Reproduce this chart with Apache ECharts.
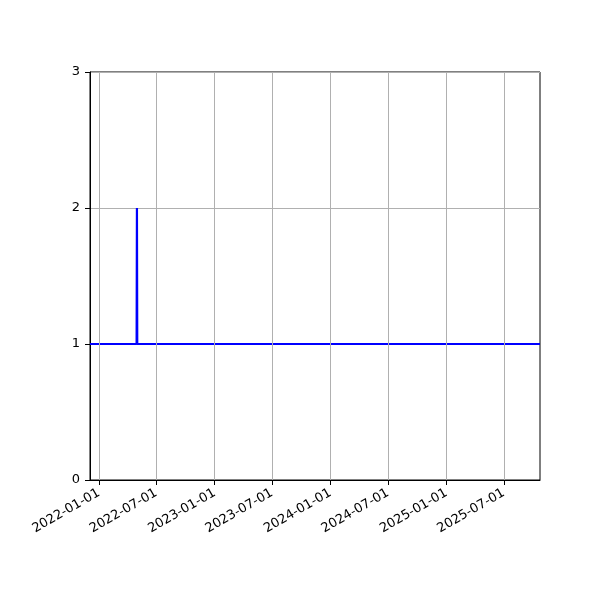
<!DOCTYPE html>
<html lang="en">
<head>
    <meta charset="UTF-8">
    <title>step spike</title>
    <style>
        html, body { margin: 0; padding: 0; background: #fff; }
        #chart { width: 600px; height: 600px; }
    </style>
</head>
<body>
<div id="chart"></div>
<script src="https://cdn.jsdelivr.net/npm/echarts@6/dist/echarts.min.js"></script>
<script>
    // data
    var dates = ['2021-12-04', '2022-04-30', '2022-05-01', '2022-05-02', '2025-10-23'];
    var values = [1, 1, 2, 1, 1];
    var xTicks = ['2022-01-01', '2022-07-01', '2023-01-01', '2023-07-01',
                  '2024-01-01', '2024-07-01', '2025-01-01', '2025-07-01'];
    var yTicks = [0, 1, 2, 3];

    function ts(s) {
        var p = s.split('-');
        return Date.UTC(+p[0], +p[1] - 1, +p[2]);
    }
    function pad(n) { return n < 10 ? '0' + n : '' + n; }
    function fmt(v) {
        var d = new Date(v);
        return d.getUTCFullYear() + '-' + pad(d.getUTCMonth() + 1) + '-' + pad(d.getUTCDate());
    }

    var points = dates.map(function (d, i) { return [ts(d), values[i]]; });
    var tickTimes = xTicks.map(ts);
    var font = 'DejaVu Sans';

    var chart = echarts.init(document.getElementById('chart'));
    chart.setOption({
        animation: false,
        backgroundColor: '#fff',
        grid: {
            left: 90, right: 60, top: 72, bottom: 120,
            show: true, borderColor: '#000', borderWidth: 1, backgroundColor: 'transparent'
        },
        xAxis: {
            type: 'value',
            min: ts(dates[0]),
            max: ts(dates[dates.length - 1]),
            axisLine: { show: true, lineStyle: { color: '#000', width: 1 } },
            axisTick: { show: true, length: 5, lineStyle: { color: '#000' }, customValues: tickTimes },
            splitLine: { show: false },
            axisLabel: {
                customValues: tickTimes,
                rotate: 30,
                margin: 12,
                color: '#000',
                fontFamily: font,
                fontSize: 13,
                formatter: fmt
            }
        },
        yAxis: {
            type: 'value',
            min: yTicks[0],
            max: yTicks[yTicks.length - 1],
            interval: 1,
            axisLine: { show: true, lineStyle: { color: '#000', width: 1 } },
            axisTick: { show: true, length: 5, lineStyle: { color: '#000' } },
            splitLine: { show: true, lineStyle: { color: '#b0b0b0', width: 1 } },
            axisLabel: { color: '#000', fontFamily: font, fontSize: 13, margin: 10 }
        },
        series: [
            {
                type: 'line',
                data: [],
                z: 1,
                silent: true,
                markLine: {
                    silent: true,
                    symbol: 'none',
                    label: { show: false },
                    lineStyle: { color: '#b0b0b0', width: 1, type: 'solid' },
                    data: tickTimes.map(function (t) { return { xAxis: t }; })
                }
            },
            {
                type: 'line',
                data: points,
                z: 3,
                showSymbol: false,
                lineStyle: { color: '#0000ff', width: 2.2 }
            }
        ]
    });
</script>
</body>
</html>
